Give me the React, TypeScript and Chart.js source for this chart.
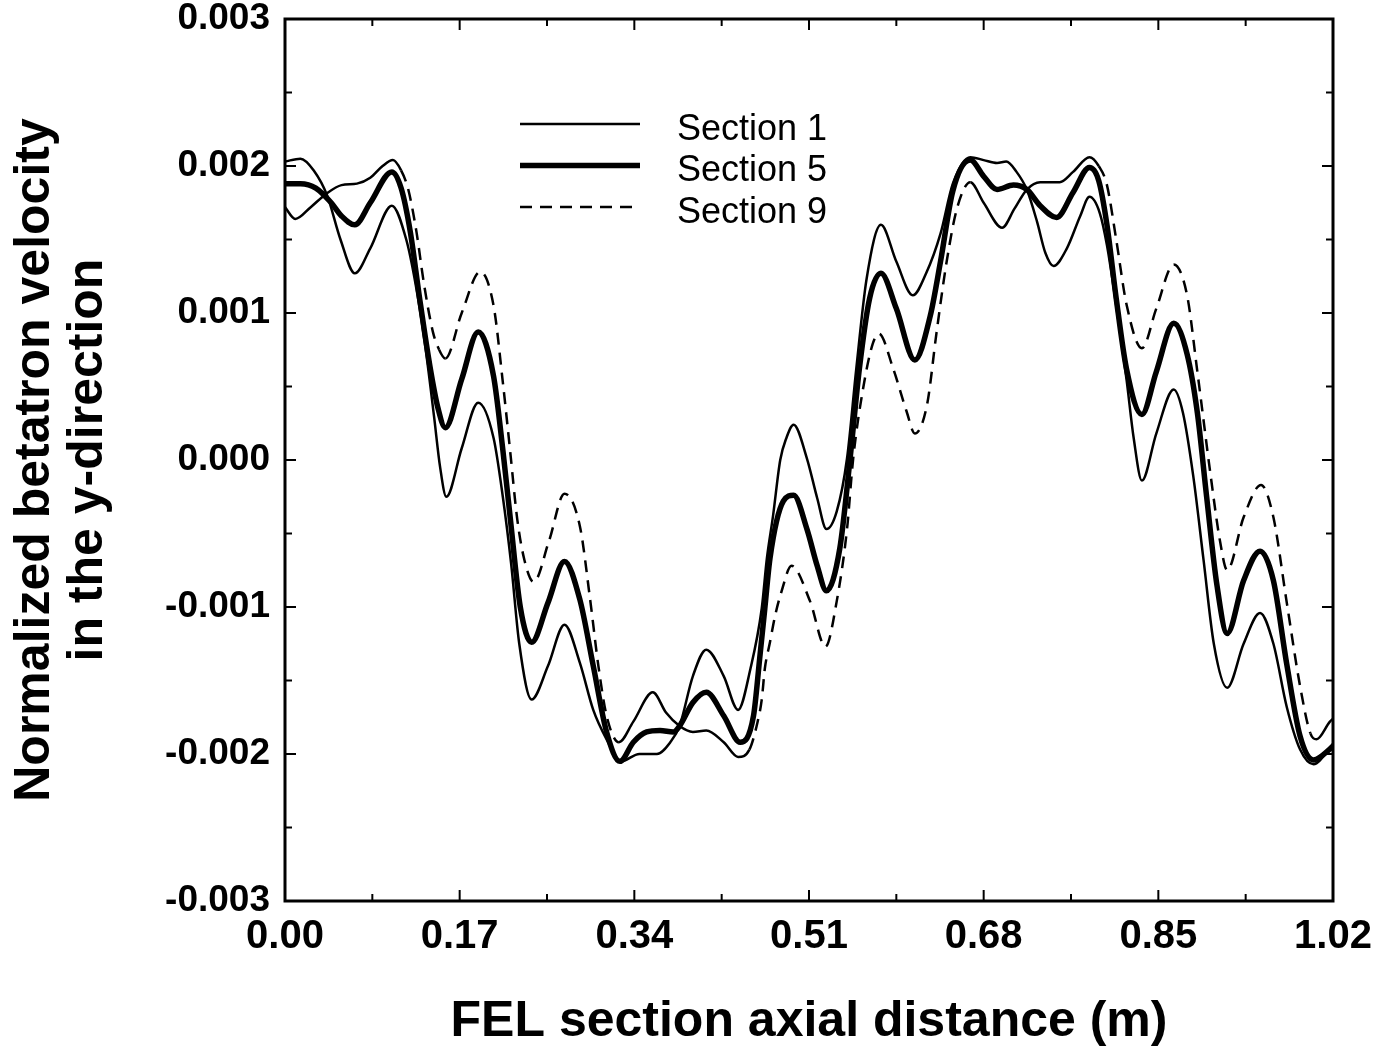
import { useEffect, useRef } from 'react';
import { Chart, registerables } from 'chart.js';

Chart.register(...registerables);

// ---- data ----
const sec1X = [0, 0.015, 0.028, 0.041, 0.054, 0.068, 0.083, 0.104, 0.118, 0.127, 0.136, 0.145, 0.151, 0.157, 0.172, 0.188, 0.203, 0.212, 0.22, 0.228, 0.24, 0.256, 0.272, 0.287, 0.3, 0.313, 0.327, 0.345, 0.362, 0.375, 0.384, 0.397, 0.41, 0.427, 0.441, 0.453, 0.464, 0.469, 0.475, 0.482, 0.488, 0.495, 0.508, 0.518, 0.527, 0.537, 0.547, 0.556, 0.566, 0.58, 0.595, 0.611, 0.624, 0.638, 0.65, 0.667, 0.68, 0.693, 0.702, 0.712, 0.722, 0.732, 0.74, 0.748, 0.761, 0.774, 0.783, 0.793, 0.8, 0.809, 0.819, 0.826, 0.834, 0.848, 0.865, 0.874, 0.884, 0.894, 0.904, 0.917, 0.933, 0.949, 0.962, 0.975, 0.988, 1.001, 1.02];
const sec1Y = [0.00203, 0.00205, 0.00197, 0.0018, 0.0015, 0.00127, 0.00144, 0.00173, 0.0015, 0.0012, 0.0008, 0.0003, -0.00005, -0.00025, 0.00008, 0.00039, 0.00015, -0.00025, -0.0007, -0.00125, -0.00163, -0.0014, -0.00112, -0.00138, -0.0017, -0.0019, -0.00205, -0.002, -0.002, -0.00192, -0.00181, -0.00147, -0.00129, -0.00147, -0.0017, -0.00142, -0.00101, -0.00067, -0.00038, 0, 0.00015, 0.00024, 0.00001, -0.00026, -0.00047, -0.00035, 0.00001, 0.00062, 0.00123, 0.0016, 0.00135, 0.00112, 0.00127, 0.00154, 0.00188, 0.00206, 0.00204, 0.00202, 0.00203, 0.00196, 0.00184, 0.00162, 0.00141, 0.00132, 0.00144, 0.00166, 0.00179, 0.00168, 0.00146, 0.00105, 0.00055, 0.00015, -0.00014, 0.00018, 0.00048, 0.00032, -0.00011, -0.00068, -0.00125, -0.00155, -0.00125, -0.00104, -0.00125, -0.00168, -0.00197, -0.00207, -0.00193];

const sec5X = [0, 0.015, 0.03, 0.045, 0.055, 0.068, 0.083, 0.104, 0.113, 0.122, 0.131, 0.141, 0.149, 0.156, 0.172, 0.188, 0.203, 0.212, 0.219, 0.229, 0.24, 0.256, 0.272, 0.287, 0.3, 0.313, 0.326, 0.339, 0.352, 0.365, 0.378, 0.384, 0.397, 0.41, 0.427, 0.443, 0.456, 0.462, 0.467, 0.472, 0.485, 0.495, 0.508, 0.518, 0.527, 0.54, 0.55, 0.559, 0.569, 0.58, 0.595, 0.613, 0.628, 0.638, 0.65, 0.667, 0.68, 0.693, 0.709, 0.722, 0.735, 0.751, 0.767, 0.783, 0.792, 0.8, 0.809, 0.819, 0.834, 0.848, 0.865, 0.878, 0.888, 0.897, 0.907, 0.917, 0.933, 0.949, 0.962, 0.975, 0.988, 1.001, 1.02];
const sec5Y = [0.00188, 0.00188, 0.00185, 0.00175, 0.00166, 0.0016, 0.00175, 0.00196, 0.00185, 0.00155, 0.0011, 0.00064, 0.00035, 0.00022, 0.00055, 0.00087, 0.00057, 0.00007, -0.00038, -0.001, -0.00124, -0.00097, -0.00069, -0.00095, -0.0014, -0.00185, -0.00205, -0.00192, -0.00185, -0.00184, -0.00185, -0.00181, -0.00165, -0.00158, -0.00174, -0.00192, -0.00174, -0.00135, -0.00101, -0.00067, -0.00028, -0.00024, -0.00047, -0.00072, -0.00089, -0.0006, 0.00001, 0.00062, 0.0011, 0.00127, 0.00103, 0.00068, 0.00098, 0.00135, 0.00183, 0.00204, 0.00193, 0.00184, 0.00187, 0.00184, 0.00173, 0.00165, 0.00182, 0.00199, 0.0019, 0.0016, 0.0011, 0.00062, 0.00031, 0.0006, 0.00093, 0.00072, 0.00032, -0.00025, -0.00085, -0.00118, -0.00082, -0.00062, -0.00082, -0.00139, -0.00188, -0.00204, -0.00195];

const sec9X = [0, 0.01, 0.025, 0.04, 0.055, 0.07, 0.083, 0.095, 0.105, 0.113, 0.12, 0.128, 0.135, 0.144, 0.15, 0.156, 0.172, 0.19, 0.203, 0.212, 0.219, 0.226, 0.233, 0.242, 0.257, 0.272, 0.287, 0.297, 0.305, 0.313, 0.325, 0.339, 0.358, 0.371, 0.384, 0.397, 0.41, 0.427, 0.441, 0.452, 0.46, 0.464, 0.467, 0.472, 0.477, 0.483, 0.493, 0.511, 0.526, 0.537, 0.547, 0.553, 0.563, 0.572, 0.578, 0.592, 0.605, 0.613, 0.625, 0.634, 0.644, 0.654, 0.667, 0.68, 0.698, 0.71, 0.722, 0.735, 0.754, 0.767, 0.783, 0.792, 0.8, 0.809, 0.819, 0.834, 0.848, 0.865, 0.878, 0.888, 0.901, 0.91, 0.917, 0.933, 0.95, 0.962, 0.975, 0.988, 0.998, 1.004, 1.017, 1.02];
const sec9Y = [0.00172, 0.00164, 0.00172, 0.00181, 0.00187, 0.00188, 0.00192, 0.002, 0.00204, 0.00197, 0.00184, 0.00155, 0.00121, 0.00087, 0.00075, 0.00069, 0.001, 0.00128, 0.00105, 0.00053, 0.00007, -0.0004, -0.00068, -0.00083, -0.00055, -0.00023, -0.00045, -0.00095, -0.0014, -0.00174, -0.00192, -0.00178, -0.00158, -0.00172, -0.00181, -0.00185, -0.00184, -0.00192, -0.00202, -0.00197, -0.00178, -0.00163, -0.00142, -0.00124, -0.00106, -0.0009, -0.00072, -0.00096, -0.00127, -0.00096, -0.00047, 0.00001, 0.0005, 0.00079, 0.00086, 0.00062, 0.00033, 0.00018, 0.00038, 0.00086, 0.00135, 0.00171, 0.00189, 0.00175, 0.00158, 0.00171, 0.00184, 0.00189, 0.00189, 0.00196, 0.00206, 0.002, 0.00187, 0.0015, 0.00106, 0.00076, 0.00103, 0.00133, 0.00112, 0.0006, -0.00011, -0.00055, -0.00075, -0.00039, -0.00017, -0.00039, -0.00097, -0.00154, -0.00186, -0.0019, -0.00178, -0.00176];

const seriesLabels = ['Section 1', 'Section 5', 'Section 9'];
const xTickValues = [0, 0.17, 0.34, 0.51, 0.68, 0.85, 1.02];
const yTickValues = [-0.003, -0.002, -0.001, 0, 0.001, 0.002, 0.003];

const xTitle = 'FEL section axial distance (m)';
const yTitle = ['Normalized betatron velocity', 'in the y-direction'];

const FONT = '"Liberation Sans", Arial, Helvetica, sans-serif';

const toPoints = (xs: number[], ys: number[]) => xs.map((x, i) => ({ x, y: ys[i] }));

const framePlugin = {
  id: 'frameTicksLegend',
  afterDraw(chart: any) {
    const { ctx, chartArea } = chart;
    const { left, right, top, bottom } = chartArea;
    const xs = chart.scales.x;
    const ys = chart.scales.y;
    ctx.save();
    ctx.strokeStyle = '#000';
    ctx.lineCap = 'butt';
    const seg = (x1: number, y1: number, x2: number, y2: number) => {
      ctx.beginPath();
      ctx.moveTo(x1, y1);
      ctx.lineTo(x2, y2);
      ctx.stroke();
    };
    // inward ticks on all four sides
    ctx.lineWidth = 2;
    const xAll: { v: number; major: boolean }[] = [];
    xTickValues.forEach((v, i) => {
      xAll.push({ v, major: true });
      if (i < xTickValues.length - 1) xAll.push({ v: (v + xTickValues[i + 1]) / 2, major: false });
    });
    xAll.forEach(({ v, major }) => {
      const px = xs.getPixelForValue(v);
      const len = major ? 11 : 7;
      seg(px, bottom, px, bottom - len);
      seg(px, top, px, top + len);
    });
    const yAll: { v: number; major: boolean }[] = [];
    yTickValues.forEach((v, i) => {
      yAll.push({ v, major: true });
      if (i < yTickValues.length - 1) yAll.push({ v: (v + yTickValues[i + 1]) / 2, major: false });
    });
    yAll.forEach(({ v, major }) => {
      const py = ys.getPixelForValue(v);
      const len = major ? 11 : 7;
      seg(left, py, left + len, py);
      seg(right, py, right - len, py);
    });
    // frame
    ctx.lineWidth = 3;
    ctx.strokeRect(left, top, right - left, bottom - top);

    // legend
    const lx0 = left + 235;
    const lx1 = left + 355;
    const ly0 = top + 105;
    const gap = 41.5;
    chart.data.datasets.forEach((ds: any, i: number) => {
      const y = ly0 + i * gap;
      ctx.lineWidth = ds.borderWidth;
      ctx.setLineDash(ds.borderDash || []);
      seg(lx0, y, lx1, y);
      ctx.setLineDash([]);
      ctx.fillStyle = '#000';
      ctx.font = `36px ${FONT}`;
      ctx.textAlign = 'left';
      ctx.textBaseline = 'middle';
      ctx.fillText(ds.label, left + 392, y + 6);
    });
    ctx.restore();
  },
};

export default function App() {
  const canvasRef = useRef<HTMLCanvasElement | null>(null);

  useEffect(() => {
    if (!canvasRef.current) return;
    const chart = new Chart(canvasRef.current, {
      type: 'line',
      data: {
        datasets: [
          {
            label: seriesLabels[0],
            data: toPoints(sec1X, sec1Y),
            borderColor: '#000',
            borderWidth: 2.5,
            pointRadius: 0,
            fill: false,
            cubicInterpolationMode: 'monotone',
          },
          {
            label: seriesLabels[1],
            data: toPoints(sec5X, sec5Y),
            borderColor: '#000',
            borderWidth: 5.5,
            pointRadius: 0,
            fill: false,
            cubicInterpolationMode: 'monotone',
          },
          {
            label: seriesLabels[2],
            data: toPoints(sec9X, sec9Y),
            borderColor: '#000',
            borderWidth: 2.5,
            borderDash: [12, 8],
            pointRadius: 0,
            fill: false,
            cubicInterpolationMode: 'monotone',
            segment: {
              borderDash: (c: any) => {
                const dx = Math.abs(c.p1.x - c.p0.x);
                const dy = Math.abs(c.p1.y - c.p0.y);
                return dy < 1.6 * dx ? [] : undefined;
              },
            },
          } as any,
        ],
      },
      options: {
        animation: false,
        responsive: true,
        maintainAspectRatio: false,
        layout: { padding: { left: 0, top: 19, right: 64, bottom: 0 } },
        plugins: {
          legend: { display: false },
          tooltip: { enabled: false },
        },
        scales: {
          x: {
            type: 'linear',
            min: 0,
            max: 1.02,
            afterBuildTicks: (s: any) => {
              s.ticks = xTickValues.map((v) => ({ value: v }));
            },
            afterFit: (s: any) => {
              s.height = 156;
            },
            grid: { display: false, drawTicks: false },
            border: { display: false },
            ticks: {
              autoSkip: false,
              maxRotation: 0,
              padding: 12,
              color: '#000',
              font: { family: FONT, size: 40, weight: 'bold', lineHeight: 1.2 },
              callback: (v: any) => Number(v).toFixed(2),
            },
            title: {
              display: true,
              text: xTitle,
              color: '#000',
              font: { family: FONT, size: 50, weight: 'bold', lineHeight: 1.2 },
              padding: { top: 0, bottom: 5 },
            },
          },
          y: {
            type: 'linear',
            min: -0.003,
            max: 0.003,
            afterBuildTicks: (s: any) => {
              s.ticks = yTickValues.map((v) => ({ value: v }));
            },
            afterFit: (s: any) => {
              s.width = 285;
              s.paddingTop = 0;
              s.paddingBottom = 0;
            },
            grid: { display: false, drawTicks: false },
            border: { display: false },
            ticks: {
              autoSkip: false,
              padding: 15,
              color: '#000',
              font: { family: FONT, size: 37, weight: 'bold', lineHeight: 1.0 },
              callback: (v: any) => Number(v).toFixed(3),
            },
            title: {
              display: true,
              text: yTitle,
              color: '#000',
              font: { family: FONT, size: 50, weight: 'bold', lineHeight: 1.05 },
              padding: { top: 9, bottom: 0 },
            },
          },
        },
      },
      plugins: [framePlugin],
    });
    return () => chart.destroy();
  }, []);

  return (
    <div style={{ position: 'absolute', left: 0, top: 0, width: 1397, height: 1057, background: '#fff' }}>
      <canvas ref={canvasRef} />
    </div>
  );
}
